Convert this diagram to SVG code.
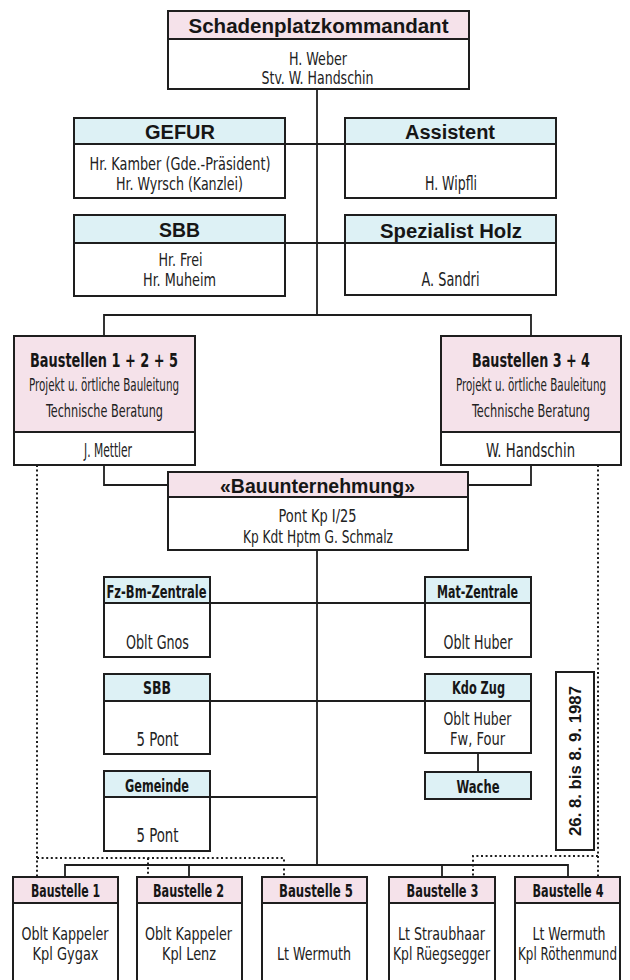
<svg xmlns="http://www.w3.org/2000/svg" width="630" height="980" viewBox="0 0 630 980">
<style>
.bg{fill:#ffffff}
.pk{fill:#f5e2ea}
.bl{fill:#ddf1f5}
.bd{fill:none;stroke:#1e1e1e;stroke-width:2}
.dv{stroke:#1e1e1e;stroke-width:2}
.cn{fill:none;stroke:#1e1e1e;stroke-width:1.8}
.dt{fill:none;stroke:#1e1e1e;stroke-width:2;stroke-dasharray:2 2.6}
.h1{font-family:"Liberation Sans",Arial,sans-serif;font-weight:bold;font-size:20px;text-anchor:middle;fill:#161616}
.h2{font-family:"DejaVu Sans Condensed","Liberation Sans",sans-serif;font-weight:bold;font-size:20px;text-anchor:middle;fill:#161616}
.h3{font-family:"DejaVu Sans Condensed","Liberation Sans",sans-serif;font-weight:bold;font-size:17px;text-anchor:middle;fill:#161616}
.t1{font-family:"DejaVu Sans Condensed","Liberation Sans",sans-serif;font-size:17px;text-anchor:middle;fill:#222}
.t2{font-family:"DejaVu Sans Condensed","Liberation Sans",sans-serif;font-size:17px;text-anchor:middle;fill:#222}
.t3{font-family:"DejaVu Sans Condensed","Liberation Sans",sans-serif;font-size:17.5px;text-anchor:middle;fill:#222}
.t4{font-family:"DejaVu Sans Condensed","Liberation Sans",sans-serif;font-size:19px;text-anchor:middle;fill:#222}
</style>
<rect class="bg" x="0" y="0" width="630" height="980"/>

<g id="connectors">
  <path class="cn" d="M317 89 V315"/>
  <path class="cn" d="M285 144 H345"/>
  <path class="cn" d="M285 243 H345"/>
  <path class="cn" d="M104 336 V315 H531 V336"/>
  <path class="cn" d="M104 465 V485 H531 V465"/>
  <path class="cn" d="M317 485 V472"/>
  <path class="cn" d="M317 550 V865"/>
  <path class="cn" d="M210 603 H425"/>
  <path class="cn" d="M210 701 H425"/>
  <path class="cn" d="M210 797 H317"/>
  <path class="cn" d="M478 753 V772"/>
  <path class="cn" d="M65 877 V865 H568 V877"/>
  <path class="cn" d="M189 865 V877"/>
  <path class="cn" d="M442 865 V877"/>
  <path class="dt" d="M37 465 V877"/>
  <path class="dt" d="M37 858 H284 V877"/>
  <path class="dt" d="M148 858 V877"/>
  <path class="dt" d="M598 465 V877"/>
  <path class="dt" d="M598 856 H473 V877"/>
</g>

<g id="n-kommandant">
  <rect class="pk" x="168" y="11" width="301" height="28"/>
  <line class="dv" x1="168" y1="39" x2="469" y2="39"/>
  <rect class="bd" x="168" y="11" width="301" height="78"/>
  <text class="h1" x="318.5" y="33" textLength="260" lengthAdjust="spacingAndGlyphs">Schadenplatzkommandant</text>
  <text class="t1" x="318" y="64.5" textLength="58" lengthAdjust="spacingAndGlyphs">H. Weber</text>
  <text class="t1" x="317.5" y="83.5" textLength="112" lengthAdjust="spacingAndGlyphs">Stv. W. Handschin</text>
</g>

<g id="n-gefur">
  <rect class="bl" x="74" y="118" width="211" height="26"/>
  <line class="dv" x1="74" y1="144" x2="285" y2="144"/>
  <rect class="bd" x="74" y="118" width="211" height="80"/>
  <text class="h1" x="180" y="139" textLength="70" lengthAdjust="spacingAndGlyphs">GEFUR</text>
  <text class="t3" x="180" y="170" textLength="181" lengthAdjust="spacingAndGlyphs">Hr. Kamber (Gde.-Präsident)</text>
  <text class="t3" x="179.5" y="190" textLength="127" lengthAdjust="spacingAndGlyphs">Hr. Wyrsch (Kanzlei)</text>
</g>

<g id="n-assistent">
  <rect class="bl" x="345" y="118" width="211" height="26"/>
  <line class="dv" x1="345" y1="144" x2="556" y2="144"/>
  <rect class="bd" x="345" y="118" width="211" height="80"/>
  <text class="h1" x="450" y="139" textLength="90" lengthAdjust="spacingAndGlyphs">Assistent</text>
  <text class="t4" x="451" y="190" textLength="52" lengthAdjust="spacingAndGlyphs">H. Wipfli</text>
</g>

<g id="n-sbb1">
  <rect class="bl" x="74" y="215" width="211" height="28"/>
  <line class="dv" x1="74" y1="243" x2="285" y2="243"/>
  <rect class="bd" x="74" y="215" width="211" height="81"/>
  <text class="h1" x="179.5" y="237" textLength="41" lengthAdjust="spacingAndGlyphs">SBB</text>
  <text class="t3" x="180.5" y="265.5" textLength="44" lengthAdjust="spacingAndGlyphs">Hr. Frei</text>
  <text class="t3" x="179.5" y="285.5" textLength="73" lengthAdjust="spacingAndGlyphs">Hr. Muheim</text>
</g>

<g id="n-holz">
  <rect class="bl" x="345" y="215" width="211" height="28"/>
  <line class="dv" x1="345" y1="243" x2="556" y2="243"/>
  <rect class="bd" x="345" y="215" width="211" height="80"/>
  <text class="h1" x="451" y="238" textLength="142" lengthAdjust="spacingAndGlyphs">Spezialist Holz</text>
  <text class="t4" x="450.5" y="285.5" textLength="58" lengthAdjust="spacingAndGlyphs">A. Sandri</text>
</g>

<g id="n-baustellen125">
  <rect class="pk" x="14" y="336" width="181" height="96"/>
  <line class="dv" x1="14" y1="432" x2="195" y2="432"/>
  <rect class="bd" x="14" y="336" width="181" height="129"/>
  <text class="h2" x="104" y="367" textLength="148" lengthAdjust="spacingAndGlyphs">Baustellen 1 + 2 + 5</text>
  <text class="t2" x="104" y="391" textLength="150" lengthAdjust="spacingAndGlyphs">Projekt u. örtliche Bauleitung</text>
  <text class="t2" x="104.5" y="417" textLength="117" lengthAdjust="spacingAndGlyphs">Technische Beratung</text>
  <text class="t4" x="108" y="457" textLength="48" lengthAdjust="spacingAndGlyphs">J. Mettler</text>
</g>

<g id="n-baustellen34">
  <rect class="pk" x="441" y="336" width="180" height="96"/>
  <line class="dv" x1="441" y1="432" x2="621" y2="432"/>
  <rect class="bd" x="441" y="336" width="180" height="129"/>
  <text class="h2" transform="translate(531,367) scale(0.709,1)" x="0" y="0" textLength="166.4" lengthAdjust="spacingAndGlyphs">Baustellen 3 + 4</text>
  <text class="t2" transform="translate(531,391) scale(0.673,1)" x="0" y="0" textLength="222.9" lengthAdjust="spacingAndGlyphs">Projekt u. örtliche Bauleitung</text>
  <text class="t2" x="531" y="417" textLength="118" lengthAdjust="spacingAndGlyphs">Technische Beratung</text>
  <text class="t4" x="530.5" y="457" textLength="89" lengthAdjust="spacingAndGlyphs">W. Handschin</text>
</g>

<g id="n-bauunternehmung">
  <rect class="pk" x="168" y="472" width="300" height="25"/>
  <line class="dv" x1="168" y1="497" x2="468" y2="497"/>
  <rect class="bd" x="168" y="472" width="300" height="78"/>
  <text class="h1" x="317.5" y="492.5" textLength="195" lengthAdjust="spacingAndGlyphs">«Bauunternehmung»</text>
  <text class="t1" x="317.5" y="522" textLength="78" lengthAdjust="spacingAndGlyphs">Pont Kp I/25</text>
  <text class="t1" x="318" y="542.5" textLength="150" lengthAdjust="spacingAndGlyphs">Kp Kdt Hptm G. Schmalz</text>
</g>

<g id="n-fzbm">
  <rect class="bl" x="104" y="577" width="106" height="26"/>
  <line class="dv" x1="104" y1="603" x2="210" y2="603"/>
  <rect class="bd" x="104" y="577" width="106" height="80"/>
  <text class="h3" x="156.5" y="598" textLength="100" lengthAdjust="spacingAndGlyphs">Fz-Bm-Zentrale</text>
  <text class="t4" x="157.5" y="649" textLength="63" lengthAdjust="spacingAndGlyphs">Oblt Gnos</text>
</g>

<g id="n-mat">
  <rect class="bl" x="425" y="577" width="106" height="26"/>
  <line class="dv" x1="425" y1="603" x2="531" y2="603"/>
  <rect class="bd" x="425" y="577" width="106" height="80"/>
  <text class="h3" x="477.5" y="598" textLength="81" lengthAdjust="spacingAndGlyphs">Mat-Zentrale</text>
  <text class="t4" x="478" y="649" textLength="69" lengthAdjust="spacingAndGlyphs">Oblt Huber</text>
</g>

<g id="n-sbb2">
  <rect class="bl" x="104" y="674" width="106" height="27"/>
  <line class="dv" x1="104" y1="701" x2="210" y2="701"/>
  <rect class="bd" x="104" y="674" width="106" height="80"/>
  <text class="h3" x="157" y="694" textLength="28" lengthAdjust="spacingAndGlyphs">SBB</text>
  <text class="t4" x="157.5" y="746" textLength="42" lengthAdjust="spacingAndGlyphs">5 Pont</text>
</g>

<g id="n-kdozug">
  <rect class="bl" x="425" y="674" width="106" height="27"/>
  <line class="dv" x1="425" y1="701" x2="531" y2="701"/>
  <rect class="bd" x="425" y="674" width="106" height="79"/>
  <text class="h3" x="478.5" y="694" textLength="53" lengthAdjust="spacingAndGlyphs">Kdo Zug</text>
  <text class="t1" x="477.5" y="725" textLength="68" lengthAdjust="spacingAndGlyphs">Oblt Huber</text>
  <text class="t1" x="477.5" y="744.5" textLength="55" lengthAdjust="spacingAndGlyphs">Fw, Four</text>
</g>

<g id="n-wache">
  <rect class="bl" x="425" y="772" width="106" height="27"/>
  <rect class="bd" x="425" y="772" width="106" height="27"/>
  <text class="h3" x="478" y="792.5" textLength="43" lengthAdjust="spacingAndGlyphs">Wache</text>
</g>

<g id="n-gemeinde">
  <rect class="bl" x="104" y="771" width="106" height="26"/>
  <line class="dv" x1="104" y1="797" x2="210" y2="797"/>
  <rect class="bd" x="104" y="771" width="106" height="80"/>
  <text class="h3" x="157" y="791.5" textLength="64" lengthAdjust="spacingAndGlyphs">Gemeinde</text>
  <text class="t4" x="157.5" y="842" textLength="42" lengthAdjust="spacingAndGlyphs">5 Pont</text>
</g>

<g id="n-datum">
  <rect class="bd" x="556" y="672" width="38" height="178"/>
  <text transform="translate(581,761) rotate(-90)" x="0" y="0" textLength="150" lengthAdjust="spacingAndGlyphs" style="font-family:'Liberation Sans',Arial,sans-serif;font-weight:bold;font-size:17px;text-anchor:middle;fill:#161616">26. 8. bis 8. 9. 1987</text>
</g>

<g id="n-baustelle1">
  <rect class="pk" x="13" y="877" width="105" height="26"/>
  <line class="dv" x1="13" y1="903" x2="118" y2="903"/>
  <rect class="bd" x="13" y="877" width="105" height="106"/>
  <text class="h3" x="65.5" y="896.5" textLength="69" lengthAdjust="spacingAndGlyphs">Baustelle 1</text>
  <text class="t3" x="65" y="940" textLength="87" lengthAdjust="spacingAndGlyphs">Oblt Kappeler</text>
  <text class="t3" x="65.5" y="960" textLength="66" lengthAdjust="spacingAndGlyphs">Kpl Gygax</text>
</g>

<g id="n-baustelle2">
  <rect class="pk" x="137" y="877" width="105" height="26"/>
  <line class="dv" x1="137" y1="903" x2="242" y2="903"/>
  <rect class="bd" x="137" y="877" width="105" height="106"/>
  <text class="h3" x="188.5" y="896.5" textLength="71" lengthAdjust="spacingAndGlyphs">Baustelle 2</text>
  <text class="t3" x="188.5" y="940" textLength="87" lengthAdjust="spacingAndGlyphs">Oblt Kappeler</text>
  <text class="t3" x="189" y="960" textLength="54" lengthAdjust="spacingAndGlyphs">Kpl Lenz</text>
</g>

<g id="n-baustelle5">
  <rect class="pk" x="262" y="877" width="105" height="26"/>
  <line class="dv" x1="262" y1="903" x2="367" y2="903"/>
  <rect class="bd" x="262" y="877" width="105" height="106"/>
  <text class="h3" x="316" y="896.5" textLength="74" lengthAdjust="spacingAndGlyphs">Baustelle 5</text>
  <text class="t3" x="314" y="960" textLength="74" lengthAdjust="spacingAndGlyphs">Lt Wermuth</text>
</g>

<g id="n-baustelle3">
  <rect class="pk" x="389" y="877" width="106" height="26"/>
  <line class="dv" x1="389" y1="903" x2="495" y2="903"/>
  <rect class="bd" x="389" y="877" width="106" height="106"/>
  <text class="h3" x="442.5" y="896.5" textLength="72" lengthAdjust="spacingAndGlyphs">Baustelle 3</text>
  <text class="t3" x="441.5" y="940" textLength="87" lengthAdjust="spacingAndGlyphs">Lt Straubhaar</text>
  <text class="t3" x="441.5" y="960" textLength="97" lengthAdjust="spacingAndGlyphs">Kpl Rüegsegger</text>
</g>

<g id="n-baustelle4">
  <rect class="pk" x="515" y="877" width="105" height="26"/>
  <line class="dv" x1="515" y1="903" x2="620" y2="903"/>
  <rect class="bd" x="515" y="877" width="105" height="106"/>
  <text class="h3" x="568" y="896.5" textLength="71" lengthAdjust="spacingAndGlyphs">Baustelle 4</text>
  <text class="t3" x="569" y="940" textLength="73" lengthAdjust="spacingAndGlyphs">Lt Wermuth</text>
  <text class="t3" transform="translate(567.5,960) scale(0.753,1)" x="0" y="0" textLength="131.5" lengthAdjust="spacingAndGlyphs">Kpl Röthenmund</text>
</g>
</svg>
